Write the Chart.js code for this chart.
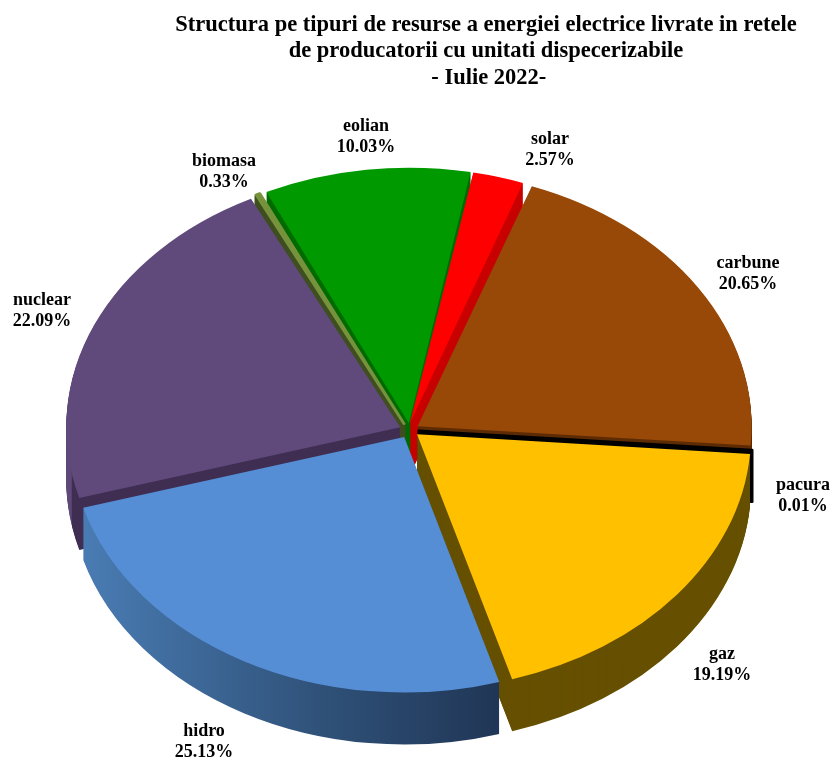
<!DOCTYPE html>
<html>
<head>
  <title>Structura pe tipuri de resurse</title>
  <script src="https://cdn.jsdelivr.net/npm/chart.js"></script>
  <style>
    html, body { margin: 0; padding: 0; background: #fff; }
    canvas { display: block; }
  </style>
</head>
<body>
  <canvas id="pieChart" width="832" height="760"></canvas>

  <script>
    const categories = ['carbune', 'pacura', 'gaz', 'hidro', 'nuclear', 'biomasa', 'eolian', 'solar'];
    const shares = [20.65, 0.01, 19.19, 25.13, 22.09, 0.33, 10.03, 2.57];
    const shareLabels = ['20.65%', '0.01%', '19.19%', '25.13%', '22.09%', '0.33%', '10.03%', '2.57%'];
    const topColors = ['#984807', '#000000', '#ffc000', '#558ed5', '#604a7b', '#76923c', '#009900', '#ff0000'];
    const titleLines = [
      'Structura pe tipuri de resurse a energiei electrice livrate in retele',
      'de producatorii cu unitati dispecerizabile',
      ' - Iulie 2022-'
    ];

    // where the flattened pie sits on the page
    const pieX = 410, pieY = 430, pieRadius = 334, explode = 36, squash = 0.765, depth = 52;
    const labelFont = 'bold 18px "Liberation Serif"';
    const labelCentres = {
      carbune: [748, 274], pacura: [803, 496], gaz: [722, 665], hidro: [204, 742],
      nuclear: [42, 311], biomasa: [224, 172], eolian: [366, 137], solar: [550, 150]
    };
    // the original explosion is not quite radial
    const sliceNudge = { solar: [-2.5, 0], biomasa: [-2, 0], nuclear: [-1.5, 0], hidro: [-1.5, 1] };
    // walls are painted back to front
    const wallOrder = ['eolian', 'biomasa', 'solar', 'carbune', 'pacura', 'nuclear', 'gaz', 'hidro'];

    function wallFill(ctx, name, arc) {
      const left = arc.x - pieRadius, width = pieRadius * 2;
      const g = ctx.createLinearGradient(left, 0, left + width, 0);
      if (name === 'hidro') {
        g.addColorStop(0.01, '#4a7db5');
        g.addColorStop(0.38, '#2f5178');
        g.addColorStop(0.64, '#203656');
        return g;
      }
      if (name === 'nuclear') {
        g.addColorStop(0.0075, '#5d4877');
        g.addColorStop(0.009, '#3f2d52');
        return g;
      }
      return {
        carbune: '#5e2c04', pacura: '#000000', gaz: '#665000',
        biomasa: '#3f4f20', eolian: '#006b00', solar: '#c80000'
      }[name];
    }

    const pie3d = {
      id: 'pie3d',
      // Arc.draw grows thin slices by offset/4 * (1 - sin(angle)), take that back
      afterDatasetsUpdate(chart) {
        chart.getDatasetMeta(0).data.forEach((arc, i) => {
          const fix = 1 - Math.sin(Math.min(Math.PI, arc.circumference));
          arc.outerRadius = pieRadius - explode / 4 * fix;
          const nudge = sliceNudge[categories[i]];
          if (nudge) {
            arc.x += nudge[0];
            arc.y += nudge[1] / squash;
          }
        });
      },
      beforeDatasetsDraw(chart) {
        const ctx = chart.ctx;
        const arcs = chart.getDatasetMeta(0).data;
        const first = arcs[0];
        ctx.save();
        ctx.translate(pieX, pieY);
        ctx.scale(1, squash);
        ctx.translate(-first.x, -first.y);
        wallOrder.forEach(name => {
          const arc = arcs[categories.indexOf(name)];
          const saved = arc.options;
          const o = Object.create(saved);
          o.backgroundColor = wallFill(ctx, name, arc);
          o.borderColor = name === 'pacura' ? '#000000' : o.backgroundColor;
          arc.options = o;
          for (let dy = depth; dy >= 1; dy--) {
            ctx.save();
            ctx.translate(0, dy / squash);
            arc.draw(ctx);
            ctx.restore();
          }
          arc.options = saved;
        });
      },
      afterDatasetsDraw(chart) {
        const ctx = chart.ctx;
        ctx.restore();
        ctx.save();
        ctx.fillStyle = '#000';
        ctx.font = labelFont;
        ctx.textAlign = 'center';
        ctx.textBaseline = 'middle';
        categories.forEach((name, i) => {
          const c = labelCentres[name];
          ctx.fillText(name, c[0], c[1] - 10.5);
          ctx.fillText(shareLabels[i], c[0], c[1] + 10.5);
        });
        ctx.restore();
      }
    };

    new Chart(document.getElementById('pieChart').getContext('2d'), {
      type: 'pie',
      data: {
        labels: categories,
        datasets: [{
          data: shares,
          backgroundColor: topColors,
          borderWidth: categories.map(n => n === 'pacura' ? 3 : n === 'biomasa' ? 3 : 0),
          borderColor: categories.map((n, i) => topColors[i]),
          borderJoinStyle: 'round',
          offset: explode,
          radius: pieRadius,
          clip: false
        }]
      },
      plugins: [pie3d],
      options: {
        responsive: false,
        animation: false,
        rotation: 20,
        layout: { padding: { left: 140 } },
        plugins: {
          legend: { display: false },
          tooltip: { enabled: false },
          title: {
            display: true,
            fullSize: false,
            text: titleLines,
            color: '#000',
            font: { family: '"Liberation Serif"', size: 22.5, weight: 'bold', lineHeight: 1.17 },
            padding: { top: 12, bottom: 0 }
          }
        }
      }
    });
  </script>
</body>
</html>
